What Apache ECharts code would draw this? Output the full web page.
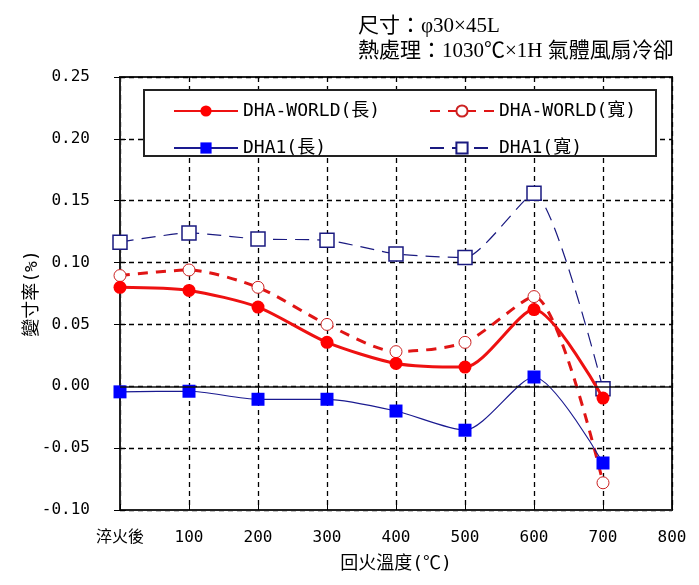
<!DOCTYPE html>
<html>
<head>
<meta charset="utf-8">
<script src="https://cdn.jsdelivr.net/npm/echarts@6/dist/echarts.min.js"></script>
<style>html,body{margin:0;padding:0;background:#fff;}#c{width:699px;height:585px;}</style>
</head>
<body>
<div id="c"></div>
<script>
// Tempering temperature (0 = 淬火後)
var temps = [0, 100, 200, 300, 400, 500, 600, 700];
var xTickLabels = {0: '淬火後', 100: '100', 200: '200', 300: '300', 400: '400', 500: '500', 600: '600', 700: '700', 800: '800'};
var seriesNames = ['DHA-WORLD(長)', 'DHA-WORLD(寬)', 'DHA1(長)', 'DHA1(寬)'];
var worldLong  = [0.080, 0.0775, 0.064, 0.0355, 0.0185, 0.0155, 0.062, -0.0095];
var worldWide  = [0.0895, 0.094, 0.080, 0.050, 0.028, 0.0355, 0.0725, -0.078];
var dha1Long   = [-0.0045, -0.004, -0.0105, -0.0105, -0.020, -0.0355, 0.0075, -0.062];
var dha1Wide   = [0.1165, 0.124, 0.119, 0.118, 0.107, 0.104, 0.156, -0.002];
var titleLines = ['尺寸：φ30×45L', '熱處理：1030℃×1H 氣體風扇冷卻'];

function pairs(vals) { return temps.map(function (t, i) { return [t, vals[i]]; }); }

var mono = "'DejaVu Sans Mono','Noto Sans CJK TC',monospace";
var chart = echarts.init(document.getElementById('c'));
var splitStyle = {show: true, lineStyle: {color: '#000', type: [5, 4], width: 1.3}};
var option = {
  backgroundColor: '#fff',
  animation: false,
  title: {
    text: titleLines.join('\n'),
    left: 358, top: 14, padding: 0,
    textStyle: {fontSize: 21, fontWeight: 'normal', color: '#000', lineHeight: 25,
      fontFamily: "'Liberation Serif','Noto Sans CJK TC',serif"}
  },
  grid: {left: 120, right: 27, top: 77, bottom: 75, show: true, borderColor: '#222', borderWidth: 2, backgroundColor: 'transparent'},
  graphic: [{
    type: 'rect', z: 5, left: 143, top: 89,
    shape: {width: 512, height: 66},
    style: {fill: '#fff', stroke: '#222', lineWidth: 2}
  }],
  legend: [{
    z: 10, orient: 'vertical', left: 168, top: 97, itemWidth: 64, itemHeight: 14, itemGap: 19,
    data: [seriesNames[0], seriesNames[2]],
    textStyle: {fontSize: 18, fontFamily: mono, color: '#000'}
  }, {
    z: 10, orient: 'vertical', left: 424, top: 97, itemWidth: 64, itemHeight: 14, itemGap: 19,
    data: [seriesNames[1], seriesNames[3]],
    textStyle: {fontSize: 18, fontFamily: mono, color: '#000'}
  }],
  xAxis: [{
    type: 'value', min: 0, max: 800, interval: 100,
    name: '回火溫度(℃)', nameLocation: 'middle', nameGap: 45, nameMoveOverlap: false,
    nameTextStyle: {fontSize: 18, fontFamily: mono, color: '#000'},
    axisLine: {show: true, onZero: false, lineStyle: {color: '#222', width: 2}},
    axisTick: {show: true, inside: true, length: 6, lineStyle: {color: '#000'}},
    axisLabel: {margin: 20, fontSize: 16, fontFamily: mono, color: '#000',
      formatter: function (v) { return xTickLabels[v] !== undefined ? xTickLabels[v] : ''; }},
    splitLine: splitStyle
  }, {
    type: 'value', position: 'top', min: 0, max: 800, interval: 100,
    axisLine: {show: false}, axisLabel: {show: false}, splitLine: {show: false},
    axisTick: {show: true, inside: true, length: 6, lineStyle: {color: '#000'}}
  }],
  yAxis: [{
    type: 'value', min: -0.1, max: 0.25, interval: 0.05,
    name: '變寸率(%)', nameLocation: 'middle', nameGap: 79, nameMoveOverlap: false,
    nameTextStyle: {fontSize: 18, fontFamily: mono, color: '#000'},
    axisLine: {show: true, onZero: false, lineStyle: {color: '#222', width: 2}},
    axisTick: {show: true, inside: true, length: 6, lineStyle: {color: '#000'}},
    axisLabel: {margin: 30, fontSize: 16, fontFamily: mono, color: '#000',
      formatter: function (v) { return v.toFixed(2); }},
    splitLine: splitStyle
  }, {
    type: 'value', position: 'right', min: -0.1, max: 0.25, interval: 0.05,
    axisLine: {show: false}, axisLabel: {show: false}, splitLine: {show: false},
    axisTick: {show: true, inside: true, length: 6, lineStyle: {color: '#000'}}
  }],
  series: [{
    name: seriesNames[0], type: 'line', smooth: 0.25, data: pairs(worldLong),
    symbol: 'circle', symbolSize: 13,
    lineStyle: {color: '#ee1111', width: 3},
    itemStyle: {color: '#ff0000'}, z: 4,
    markLine: {silent: true, symbol: 'none', label: {show: false},
      lineStyle: {color: '#111', type: 'solid', width: 1.5},
      data: [{yAxis: 0}]}
  }, {
    name: seriesNames[1], type: 'line', smooth: 0.25, data: pairs(worldWide),
    symbol: 'circle', symbolSize: 12,
    lineStyle: {color: '#e01515', width: 3, type: [10, 8]},
    itemStyle: {color: '#fff', borderColor: '#cc2222', borderWidth: 1}, z: 3
  }, {
    name: seriesNames[2], type: 'line', smooth: 0.25, data: pairs(dha1Long),
    symbol: 'rect', symbolSize: 13,
    lineStyle: {color: '#1a1a90', width: 1.2},
    itemStyle: {color: '#0000ff'}, z: 3
  }, {
    name: seriesNames[3], type: 'line', smooth: 0.2, data: pairs(dha1Wide),
    symbol: 'rect', symbolSize: 14,
    lineStyle: {color: '#1a1a80', width: 1.2, type: [14, 8]},
    itemStyle: {color: '#fff', borderColor: '#1a1a80', borderWidth: 1.5}, z: 3
  }]
};
chart.setOption(option);
</script>
</body>
</html>
